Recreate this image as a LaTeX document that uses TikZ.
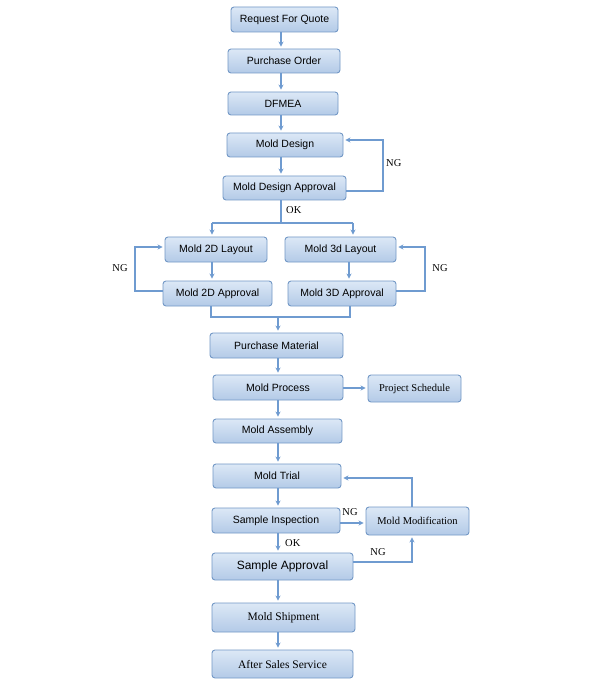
\documentclass[tikz,border=0pt]{standalone}
\usepackage{fontspec}
\setmainfont{Liberation Sans}
\newfontfamily\tnr{Liberation Serif}
\usetikzlibrary{arrows.meta,shadings}
\definecolor{boxtop}{HTML}{DCE8F6}
\definecolor{boxbot}{HTML}{B3CAE7}
\definecolor{boxline}{HTML}{7398C6}
\definecolor{arrcol}{HTML}{6F9BD0}
\tikzset{
  box/.style={draw=boxline, line width=0.9pt, rounded corners=3pt, top color=boxtop, bottom color=boxbot,
    inner sep=0pt, font=\fontsize{10.5}{12}\selectfont, text=black},
  tbox/.style={box, font=\tnr\fontsize{10.5}{12}\selectfont},
  arr/.style={draw=arrcol, line width=1.1pt, shorten >=2pt, -{Stealth[length=5pt,width=5pt]}},
  ln/.style={draw=arrcol, line width=1.1pt},
  lbl/.style={font=\tnr\fontsize{10.5}{12}\selectfont, inner sep=0pt}
}
\begin{document}
\begin{tikzpicture}[x=1pt,y=-1pt]
\useasboundingbox[fill=white] (0,0) rectangle (600,700);
% nodes
\node[box, minimum width=107pt, minimum height=25pt] (rfq) at (284.5,19.5) {Request For Quote};
\node[box, minimum width=112pt, minimum height=24pt] (po) at (284,61) {Purchase Order};
\node[box, minimum width=110pt, minimum height=23pt] (dfmea) at (283,103.5) {DFMEA};
\node[box, minimum width=116pt, minimum height=24pt] (md) at (285,145) {Mold Design};
\node[box, minimum width=123pt, minimum height=24pt] (mda) at (284.5,188) {Mold Design Approval};
\node[box, minimum width=102pt, minimum height=25pt] (l2) at (216,249.5) {Mold 2D Layout};
\node[box, minimum width=111pt, minimum height=25pt] (l3) at (340.5,249.5) {Mold 3d Layout};
\node[box, minimum width=109pt, minimum height=25pt] (a2) at (217.5,293.5) {Mold 2D Approval};
\node[box, minimum width=108pt, minimum height=25pt] (a3) at (342,293.5) {Mold 3D Approval};
\node[box, minimum width=133pt, minimum height=25pt] (pm) at (276.5,345.5) {Purchase Material};
\node[box, minimum width=130pt, minimum height=25pt] (mp) at (278,387.5) {Mold Process};
\node[tbox, minimum width=93pt, minimum height=27pt] (ps) at (414.5,388.5) {Project Schedule};
\node[box, minimum width=129pt, minimum height=24pt] (ma) at (277.5,431) {Mold Assembly};
\node[box, minimum width=128pt, minimum height=24pt] (mt) at (277,476) {Mold Trial};
\node[box, minimum width=128pt, minimum height=25pt] (si) at (276,520.5) {Sample Inspection};
\node[tbox, minimum width=103pt, minimum height=28pt] (mm) at (417.5,521) {Mold Modification};
\node[box, minimum width=141pt, minimum height=27pt, font=\fontsize{12}{14}\selectfont] (sa) at (282.5,566.5) {Sample Approval};
\node[tbox, minimum width=143pt, minimum height=29pt, font=\tnr\fontsize{11.5}{13}\selectfont] (ms) at (283.5,617.5) {Mold Shipment};
\node[tbox, minimum width=141pt, minimum height=28pt, font=\tnr\fontsize{11.5}{13}\selectfont] (as) at (282.5,664) {After Sales Service};
% helper coordinates
\coordinate (xa) at (281,0);
\coordinate (xb) at (278,0);
\coordinate (split) at (281,223);
\coordinate (sL) at (212,223);
\coordinate (sR) at (353,223);
\coordinate (ngA) at (383,140);
\coordinate (ngL) at (135,247);
\coordinate (ngR) at (425,247);
\coordinate (mL) at (211,317);
\coordinate (mR) at (350,317);
\coordinate (mC) at (278,317);
\coordinate (xm) at (412,0);
\coordinate (ytr) at (0,478);
\coordinate (ysa) at (0,562);
\coordinate (ysi) at (0,523);
\coordinate (yps) at (0,388);
% top column
\draw[arr] (rfq.south -| xa) -- (po.north -| xa);
\draw[arr] (po.south -| xa) -- (dfmea.north -| xa);
\draw[arr] (dfmea.south -| xa) -- (md.north -| xa);
\draw[arr] (md.south -| xa) -- (mda.north -| xa);
\draw[ln] (mda.south -| xa) -- (split);
\node[lbl, anchor=west] (okA) at (286,210) {OK};
% NG loop design
\draw[arr] (mda.east |- 0,191) -- (ngA |- 0,191) -- (ngA) -- (md.east |- ngA);
\node[lbl, anchor=west] (ngAl) at (386,163) {NG};
% split
\draw[ln] (sL) -- (sR);
\draw[arr] (sL) -- (l2.north -| sL);
\draw[arr] (sR) -- (l3.north -| sR);
\draw[arr] (l2.south -| sL) -- (a2.north -| sL);
\draw[arr] (l3.south -| 349,0) -- (a3.north -| 349,0);
% side NG loops
\draw[arr] (a2.west |- 0,291) -- (ngL |- 0,291) -- (ngL) -- (l2.west |- ngL);
\node[lbl] (ngLl) at (120,268) {NG};
\draw[arr] (a3.east |- 0,291) -- (ngR |- 0,291) -- (ngR) -- (l3.east |- ngR);
\node[lbl] (ngRl) at (440,268) {NG};
% merge
\draw[ln] (a2.south -| mL) -- (mL) -- (mR) -- (a3.south -| mR);
\draw[arr] (mC) -- (pm.north -| mC);
% lower column
\draw[arr] (pm.south -| xb) -- (mp.north -| xb);
\draw[arr] (mp.east |- yps) -- (ps.west |- yps);
\draw[arr] (mp.south -| xb) -- (ma.north -| xb);
\draw[arr] (ma.south -| xb) -- (mt.north -| xb);
\draw[arr] (mt.south -| xb) -- (si.north -| xb);
\draw[arr] (si.south -| xb) -- (sa.north -| xb);
\node[lbl, anchor=west] (okB) at (285,543) {OK};
\draw[arr] (si.east |- ysi) -- (mm.west |- ysi);
\node[lbl] (ngB) at (350,512) {NG};
\draw[arr] (mm.north -| xm) -- (xm |- ytr) -- (mt.east |- ytr);
\draw[arr] (sa.east |- ysa) -- (xm |- ysa) -- (mm.south -| xm);
\node[lbl] (ngC) at (378,552) {NG};
\draw[arr] (sa.south -| xb) -- (ms.north -| xb);
\draw[arr] (ms.south -| xb) -- (as.north -| xb);
\end{tikzpicture}
\end{document}
